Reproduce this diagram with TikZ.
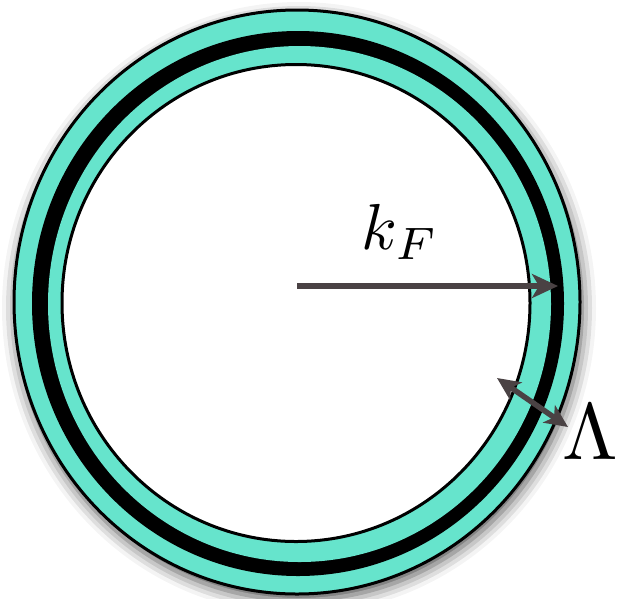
\documentclass[tikz,border=0pt]{standalone}
\usetikzlibrary{arrows.meta, shapes.geometric, shadows.blur}

\definecolor{shellteal}{RGB}{102,228,204}
\definecolor{arrowgrey}{RGB}{74,66,68}

\begin{document}
\begin{tikzpicture}[x=1pt, y=-1pt]
    \tikzstyle{shellbox}=[ellipse, inner sep=0pt, outer sep=0pt]
    \tikzstyle{edgebox}=[shellbox, draw=black, line width=3pt]
    \tikzstyle{arrowline}=[draw=arrowgrey, line width=5.5pt]
    \useasboundingbox (0,0) rectangle (618,598);

    \node[edgebox, fill=shellteal, minimum width=566pt, minimum height=584pt,
          blur shadow={shadow xshift=2pt, shadow yshift=-6pt, shadow blur radius=14pt, shadow opacity=70}]
          (outer) at (297,302) {};
    \node[shellbox, fill=black, minimum width=532pt, minimum height=545pt] (band) at (298,303.5) {};
    \node[shellbox, fill=shellteal, minimum width=503pt, minimum height=516pt] (inner) at (299.5,304) {};
    \node[edgebox, fill=white, minimum width=468pt, minimum height=477pt] (fermi) at (296,303) {};

    \coordinate (centre) at (297,286);
    \coordinate (kfend) at (558,286);
    \draw[arrowline, -{Stealth[length=26pt, width=24pt, inset=7pt]}] (centre) -- (kfend);
    \node[scale=6.5] (kflabel) at (400,232) {$k_F$};

    \coordinate (cutin) at (497,378);
    \coordinate (cutout) at (568,427);
    \draw[arrowline, {Stealth[length=23pt, width=21pt, inset=6pt]}-{Stealth[length=23pt, width=21pt, inset=6pt]}] (cutin) -- (cutout);
    \node[scale=8] (cutoff) at (590,432) {$\Lambda$};
\end{tikzpicture}
\end{document}
